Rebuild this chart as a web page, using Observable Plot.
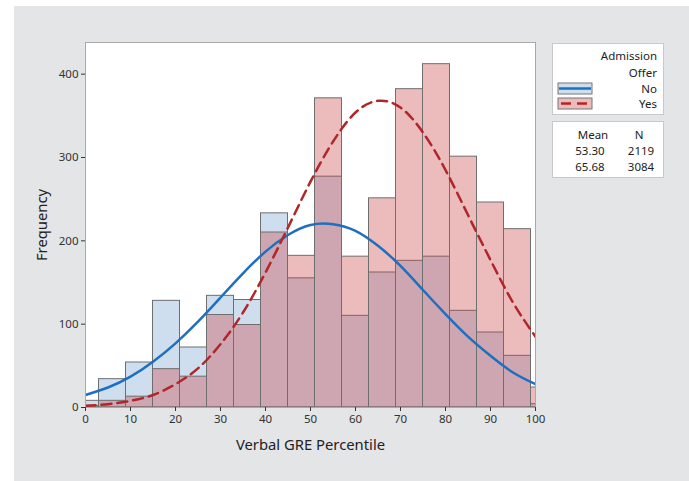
<!DOCTYPE html>
<html><head><meta charset="utf-8">
<script src="https://cdn.jsdelivr.net/npm/d3@7"></script>
<script src="https://cdn.jsdelivr.net/npm/@observablehq/plot@0.6"></script>
<style>
body{margin:0;background:#fff;font-family:"Noto Sans",sans-serif;}
#wrap{position:relative;width:689px;height:481px;overflow:hidden;}
#panel{position:absolute;left:14px;top:6px;right:0;bottom:0;background:#e4e5e7;}
#chart{position:absolute;left:0;top:0;}
.box{position:absolute;background:#fff;border:1px solid #c9c9c9;box-sizing:border-box;}
.box svg{position:absolute;left:0;top:0;overflow:visible;}
.box text{font-family:"Noto Sans",sans-serif;font-size:11.5px;fill:#222;dominant-baseline:middle;}
</style></head>
<body><div id="wrap"><div id="panel"></div><div id="chart"></div>
<div class="box" style="left:552px;top:43px;width:112px;height:72px">
<svg width="112" height="72">
<text x="104" y="13" text-anchor="end">Admission</text>
<text x="104" y="29.5" text-anchor="end">Offer</text>
<rect x="5" y="39" width="34" height="11" fill="#cfdeef" stroke="#777"/>
<line x1="6" x2="38" y1="44.5" y2="44.5" stroke="#1f6fc0" stroke-width="2.5"/>
<text x="104" y="46" text-anchor="end">No</text>
<rect x="5" y="54" width="34" height="11" fill="#ecbcbc" stroke="#777"/>
<line x1="8" x2="38" y1="59.5" y2="59.5" stroke="#b0262a" stroke-width="2.5" stroke-dasharray="10,6"/>
<text x="104" y="61" text-anchor="end">Yes</text>
</svg></div>
<div class="box" style="left:552px;top:121px;width:112px;height:57px">
<svg width="112" height="57">
<text x="40" y="14" text-anchor="middle">Mean</text>
<text x="86" y="14" text-anchor="middle">N</text>
<text x="37" y="30" text-anchor="middle">53.30</text>
<text x="88" y="30" text-anchor="middle">2119</text>
<text x="37" y="46" text-anchor="middle">65.68</text>
<text x="88" y="46" text-anchor="middle">3084</text>
</svg></div>
</div>
<script>
const binEdges = [-3,3,9,15,21,27,33,39,45,51,57,63,69,75,81,87,93,99,105];
const noCounts  = [8,34,54,128,72,134,129,233,155,277,110,162,176,181,116,90,62,4];
const yesCounts = [2,8,13,46,37,111,99,210,182,371,181,251,382,412,301,246,214,24];
const curveX   = [0,5,10,15,20,25,30,35,40,45,50,55,60,65,70,75,80,85,90,95,100];
const noCurve  = [15,24,37,55,77,103,132,161,187,207,219,220,212,194,170,141,112,85,62,42,28];
const yesCurve = [2,4,8,15,28,47,76,114,162,216,271,319,354,368,360,330,285,231,177,126,85];
const xTicks = [0,10,20,30,40,50,60,70,80,90,100];
const yTicks = [0,100,200,300,400];

const bins = noCounts.map((v,i)=>({x1:binEdges[i], x2:binEdges[i+1], no:v, yes:yesCounts[i]}));
const noLine = curveX.map((x,i)=>({x, y:noCurve[i]}));
const yesLine = curveX.map((x,i)=>({x, y:yesCurve[i]}));

const chart = Plot.plot({
  width:689, height:481,
  marginLeft:85, marginRight:154, marginTop:42, marginBottom:74,
  style:{background:"transparent", fontFamily:"'Noto Sans', sans-serif", fontSize:"11.5px", color:"#333"},
  x:{domain:[0,100]},
  y:{domain:[0,438]},
  marks:[
    Plot.frame({fill:"white"}),
    Plot.rectY(bins,{x1:"x1", x2:"x2", y1:0, y2:"no", fill:"#cfdeef", stroke:"#6e6e6e", strokeWidth:1, clip:true}),
    Plot.rectY(bins,{x1:"x1", x2:"x2", y1:0, y2:"yes", fill:"rgb(200,64,64)", fillOpacity:0.35, stroke:"#6e6e6e", strokeWidth:1, clip:true}),
    Plot.line(noLine,{x:"x", y:"y", stroke:"#1f6fc0", strokeWidth:2.5, curve:"natural", clip:true}),
    Plot.line(yesLine,{x:"x", y:"y", stroke:"#b0262a", strokeWidth:2.5, strokeDasharray:"10,6", curve:"natural", clip:true}),
    Plot.frame({stroke:"#a9a9a9"}),
    Plot.axisX({ticks:xTicks, tickSize:4, tickPadding:3, label:null, tickFormat:d=>String(d)}),
    Plot.axisY({ticks:yTicks, tickSize:4, tickPadding:3, label:null, tickFormat:d=>String(d)}),
    Plot.text(["Verbal GRE Percentile"],{frameAnchor:"bottom", textAnchor:"middle", lineAnchor:"middle", dy:38, fontSize:14.8, fill:"#222"}),
    Plot.text(["Frequency"],{frameAnchor:"left", textAnchor:"middle", lineAnchor:"middle", dx:-43, rotate:-90, fontSize:14.8, fill:"#222"})
  ]
});
document.getElementById("chart").appendChild(chart);
</script>
</body></html>
